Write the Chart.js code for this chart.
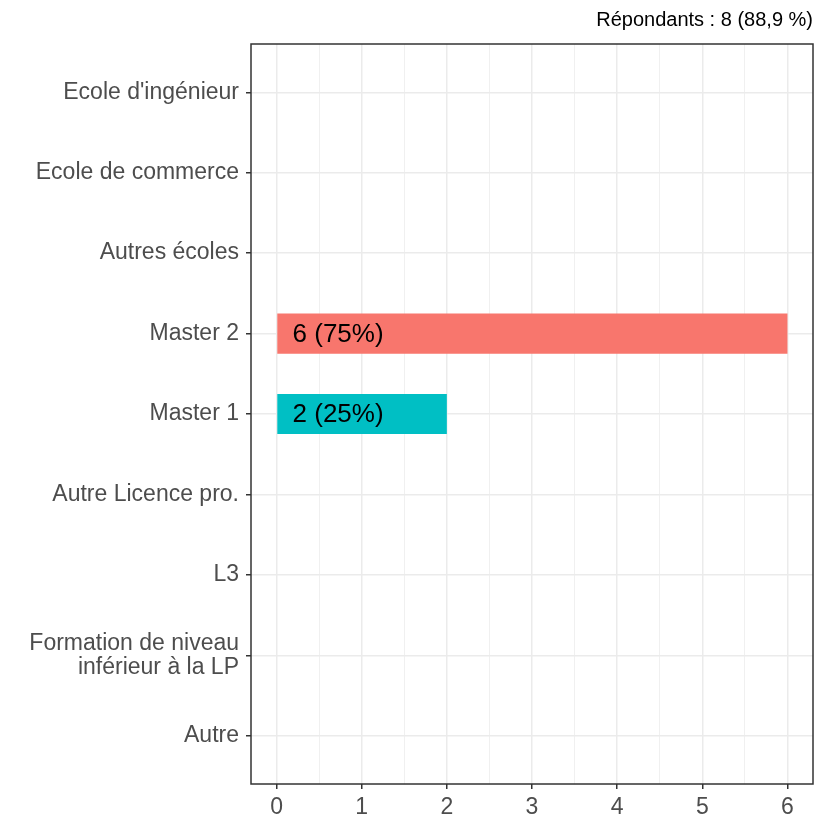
<!DOCTYPE html>
<html>
<head>
<meta charset="utf-8">
<script src="https://cdn.jsdelivr.net/npm/chart.js@4"></script>
<style>
  html, body { margin: 0; padding: 0; background: #fff; }
  #wrap { width: 815px; height: 816px; }
</style>
</head>
<body>
<div id="wrap"><canvas id="chart" width="815" height="816"></canvas></div>
<script>
const categories = [
  "Ecole d'ingénieur",
  "Ecole de commerce",
  "Autres écoles",
  "Master 2",
  "Master 1",
  "Autre Licence pro.",
  "L3",
  "Formation de niveau\ninférieur à la LP",
  "Autre"
]
const counts = [0, 0, 0, 6, 2, 0, 0, 0, 0]
const barLabels = ["", "", "", "6 (75%)", "2 (25%)", "", "", "", ""]
const barColors = ["#F8766D", "#F8766D", "#F8766D", "#F8766D", "#00BFC4", "#00BFC4", "#00BFC4", "#00BFC4", "#00BFC4"]
const xTicks = [0, 0.5, 1, 1.5, 2, 2.5, 3, 3.5, 4, 4.5, 5, 5.5, 6]
const titleText = "Répondants : 8 (88,9 %)"

const FONT = "'Liberation Sans', Arial, sans-serif"
const isMajor = v => Number.isInteger(v)

// panel border on all four sides (theme_bw look)
const panelBorder = {
  id: "panelBorder",
  afterDraw(chart) {
    const { ctx, chartArea: a } = chart
    ctx.save()
    ctx.strokeStyle = "#333333"
    ctx.lineWidth = 1.5
    ctx.strokeRect(a.left, a.top, a.right - a.left, a.bottom - a.top)
    ctx.restore()
  }
}

// "n (x%)" text inside the bars
const barText = {
  id: "barText",
  afterDatasetsDraw(chart) {
    const { ctx } = chart
    const meta = chart.getDatasetMeta(0)
    const x0 = chart.scales.x.getPixelForValue(0)
    ctx.save()
    ctx.font = "26px " + FONT
    ctx.fillStyle = "#000"
    ctx.textAlign = "left"
    ctx.textBaseline = "middle"
    meta.data.forEach((bar, i) => {
      if (barLabels[i]) ctx.fillText(barLabels[i], x0 + 16, bar.y + 1)
    })
    ctx.restore()
  }
}

new Chart(document.getElementById("chart").getContext("2d"), {
  type: "bar",
  data: {
    datasets: [
      {
        data: categories.map((c, i) => ({ x: counts[i], y: i })),
        backgroundColor: barColors,
        borderWidth: 0,
        barPercentage: 0.5,
        categoryPercentage: 1
      }
    ]
  },
  options: {
    indexAxis: "y",
    responsive: false,
    animation: false,
    layout: { padding: { left: 0, right: 2, top: 0, bottom: 0 } },
    plugins: {
      legend: { display: false },
      tooltip: { enabled: false },
      title: {
        display: true,
        text: titleText,
        align: "end",
        color: "#000",
        font: { family: FONT, size: 20, weight: "normal" },
        padding: { top: 8, bottom: 12 }
      }
    },
    scales: {
      x: {
        type: "linear",
        min: -0.3,
        max: 6.3,
        afterBuildTicks: scale => {
          scale.ticks = xTicks.map(v => ({ value: v }))
        },
        afterFit: scale => {
          scale.height = 32
        },
        border: { display: false },
        grid: {
          color: "#EBEBEB",
          lineWidth: c => (isMajor(c.tick.value) ? 1.5 : 0.75),
          drawTicks: true,
          tickLength: 5,
          tickColor: c => (isMajor(c.tick.value) ? "#333333" : "rgba(0,0,0,0)"),
          tickWidth: 1.5
        },
        ticks: {
          autoSkip: false,
          maxRotation: 0,
          padding: 5,
          color: "#4D4D4D",
          font: { family: FONT, size: 23 },
          callback: v => (isMajor(v) ? String(v) : "")
        }
      },
      y: {
        type: "linear",
        min: -0.6,
        max: 8.6,
        reverse: true,
        offset: false,
        afterBuildTicks: scale => {
          scale.ticks = categories.map((c, i) => ({ value: i }))
        },
        afterFit: scale => {
          scale.width = 251
        },
        border: { display: false },
        grid: {
          offset: false,
          color: "#EBEBEB",
          lineWidth: 1.5,
          drawTicks: true,
          tickLength: 5,
          tickColor: "#333333",
          tickWidth: 1.5
        },
        ticks: {
          autoSkip: false,
          padding: 7,
          color: "#4D4D4D",
          font: { family: FONT, size: 23, lineHeight: 1.05 },
          callback: v => categories[v].split("\n")
        }
      }
    }
  },
  plugins: [panelBorder, barText]
})
</script>
</body>
</html>
